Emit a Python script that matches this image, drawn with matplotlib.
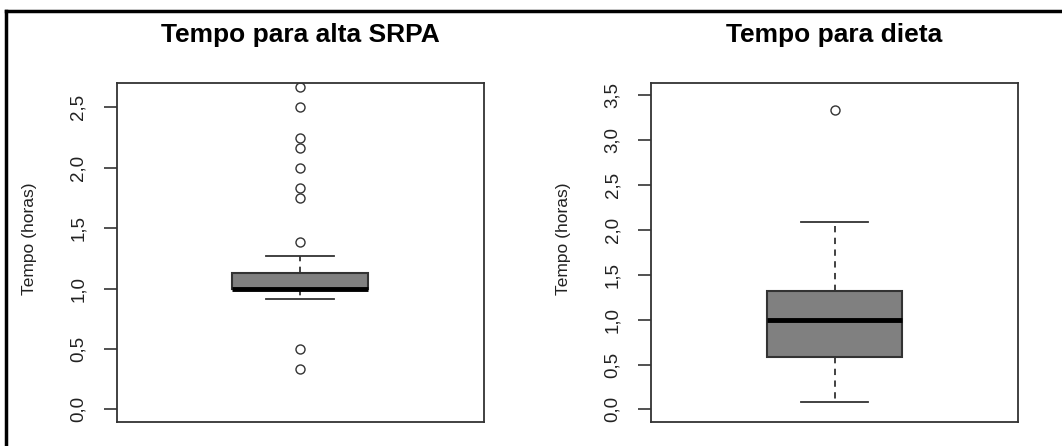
import matplotlib
matplotlib.use('Agg')
import matplotlib.pyplot as plt
from matplotlib.lines import Line2D

plt.rcParams['font.family'] = ['Liberation Sans', 'DejaVu Sans']

titles = ['Tempo para alta SRPA', 'Tempo para dieta']
ylabel = 'Tempo (horas)'

# summaries in hours: lower whisker, Q1, median, Q3, upper whisker
srpa_box = [0.917, 1.0, 1.0, 1.133, 1.267]
srpa_out = [2.667, 2.5, 2.25, 2.167, 2.0, 1.833, 1.75, 1.383, 0.5, 0.333]
dieta_box = [0.083, 0.583, 1.0, 1.317, 2.083]
dieta_out = [3.333]

srpa_ticks = [0.0, 0.5, 1.0, 1.5, 2.0, 2.5]
dieta_ticks = [0.0, 0.5, 1.0, 1.5, 2.0, 2.5, 3.0, 3.5]
srpa_lim = (0, 2.6)
dieta_lim = (0, 3.5)

W, H = 1062, 446
fig = plt.figure(figsize=(W / 100, H / 100), dpi=100)
fig.patch.set_facecolor('white')

edge = '#333333'


def stats(box, out):
    lo, q1, med, q3, hi = box
    return [dict(whislo=lo, q1=q1, med=med, q3=q3, whishi=hi, fliers=out)]


def panel(left, box, out, ticks, lim, title):
    ax = fig.add_axes([left / W, (H - 422) / H, 367 / W, 339.3 / H])
    ax.bxp(stats(box, out), positions=[1], widths=0.4, capwidths=0.2,
           patch_artist=True,
           boxprops=dict(facecolor='#808080', edgecolor=edge, linewidth=1.5),
           medianprops=dict(color='black', linewidth=3.5, solid_capstyle='butt'),
           whiskerprops=dict(color=edge, linewidth=1.3, linestyle=(0, (3.5, 3))),
           capprops=dict(color=edge, linewidth=1.3),
           flierprops=dict(marker='o', markersize=6.5, markerfacecolor='none',
                           markeredgecolor=edge, markeredgewidth=1.0))
    ax.set_xlim(0.46, 1.54)
    r = lim[1] - lim[0]
    ax.set_ylim(lim[0] - 0.04 * r, lim[1] + 0.04 * r)
    ax.set_xticks([])
    ax.set_yticks(ticks)
    ax.set_yticklabels([('%.1f' % t).replace('.', ',') for t in ticks])
    ax.tick_params(axis='y', length=9.5, width=1.2, color=edge, pad=12,
                   labelsize=13.5, labelrotation=90, labelcolor='#222222')
    for lab in ax.get_yticklabels():
        lab.set_va('center')
    for s in ax.spines.values():
        s.set_color(edge)
        s.set_linewidth(1.3)
    ax.set_ylabel(ylabel, fontsize=12.5, color='#222222')
    ax.yaxis.set_label_coords(-80 / 367, 0.54)
    ax.text(0.5, 1 + 48 / 339.3, title, transform=ax.transAxes,
            ha='center', va='center', fontsize=19, fontweight='bold')
    return ax


panel(116.7, srpa_box, srpa_out, srpa_ticks, srpa_lim, titles[0])
panel(651, dieta_box, dieta_out, dieta_ticks, dieta_lim, titles[1])

# outer frame
fig.add_artist(Line2D([6 / W, 1], [1 - 11 / H, 1 - 11 / H], color='black', lw=2.5,
                      transform=fig.transFigure))
fig.add_artist(Line2D([6 / W, 6 / W], [0, 1 - 11 / H], color='black', lw=2.5,
                      transform=fig.transFigure))

fig.savefig('out.png', dpi=100)
